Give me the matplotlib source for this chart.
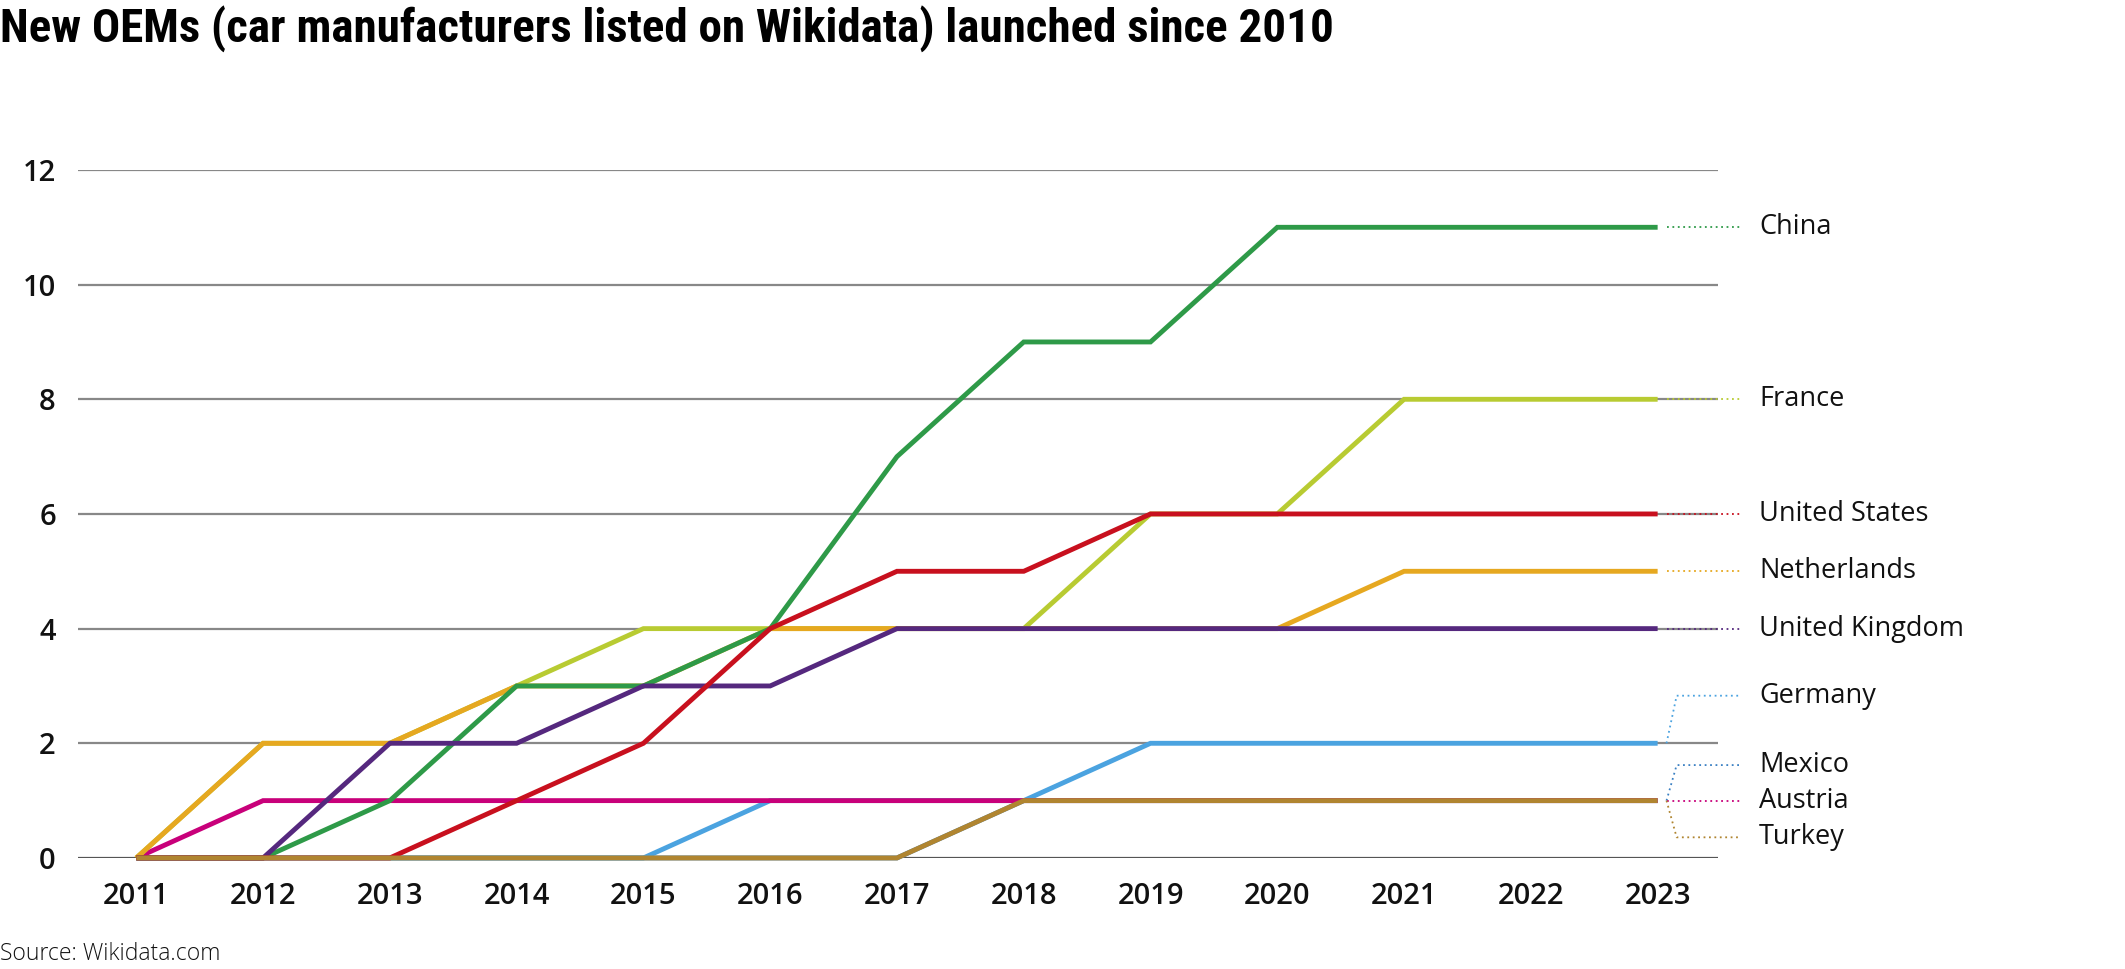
import matplotlib
matplotlib.use("Agg")
import matplotlib.pyplot as plt
from matplotlib import font_manager

years = [2011, 2012, 2013, 2014, 2015, 2016, 2017, 2018, 2019, 2020, 2021, 2022, 2023]

# cumulative number of new OEMs per country
mexico      = [0, 0, 0, 0, 0, 0, 0, 1, 1, 1, 1, 1, 1]
germany     = [0, 0, 0, 0, 0, 1, 1, 1, 2, 2, 2, 2, 2]
austria     = [0, 1, 1, 1, 1, 1, 1, 1, 1, 1, 1, 1, 1]
france      = [0, 2, 2, 3, 4, 4, 4, 4, 6, 6, 8, 8, 8]
netherlands = [0, 2, 2, 3, 3, 4, 4, 4, 4, 4, 5, 5, 5]
china       = [0, 0, 1, 3, 3, 4, 7, 9, 9, 11, 11, 11, 11]
uk          = [0, 0, 2, 2, 3, 3, 4, 4, 4, 4, 4, 4, 4]
usa         = [0, 0, 0, 1, 2, 4, 5, 5, 6, 6, 6, 6, 6]
turkey      = [0, 0, 0, 0, 0, 0, 0, 1, 1, 1, 1, 1, 1]

# drawing order: first = bottom
series = [
    ("Mexico", mexico, "#3a80c3"),
    ("Germany", germany, "#4ba3e0"),
    ("Austria", austria, "#c8007a"),
    ("France", france, "#b8cb32"),
    ("Netherlands", netherlands, "#e6a820"),
    ("China", china, "#2e9a48"),
    ("United Kingdom", uk, "#55287e"),
    ("United States", usa, "#c8101e"),
    ("Turkey", turkey, "#b08530"),
]

# label shifts so the crowded ones don't overlap
label_shift = {"Germany": 0.83, "Mexico": 0.62, "Turkey": -0.64}

# condensed font for the title if one is around
installed = {f.name for f in font_manager.fontManager.ttflist}
title_font, title_size = "DejaVu Sans", 23.5
for name, size in [("Liberation Sans Narrow", 34.5), ("Roboto Condensed", 33.8),
                   ("DejaVu Sans Condensed", 27), ("Open Sans Condensed", 33)]:
    if name in installed:
        title_font, title_size = name, size
        break

fig = plt.figure(figsize=(21.25, 9.69), dpi=100)
ax = fig.add_axes([0.0367, 0.1146, 0.772, 0.71])

for y in range(2, 13, 2):
    ax.axhline(y, color="#888888", lw=1.6, zorder=0)
ax.axhline(0, color="#555555", lw=1.6, zorder=0)

for i, (name, vals, col) in enumerate(series):
    ax.plot(years, vals, color=col, lw=3.5, solid_capstyle="butt",
            solid_joinstyle="miter", clip_on=False, zorder=2 + i)
    ly = vals[-1] + label_shift.get(name, 0)
    ax.plot([2023.07, 2023.15, 2023.65], [vals[-1], ly, ly], color=col,
            lw=1.3, ls=(0, (1, 2)), clip_on=False)
    ax.text(2023.8, ly, name, fontsize=19.5, family="Open Sans", color="#111111",
            fontweight="medium", va="center", ha="left", clip_on=False)

ax.set_xlim(2010.54, 2023.48)
ax.set_ylim(0, 12)
ax.set_yticks(range(0, 13, 2))
ax.set_xticks(years)
ax.tick_params(length=0, labelsize=21, colors="#111111", pad=17)
ax.tick_params(axis="y", pad=16)
for lab in ax.get_xticklabels() + ax.get_yticklabels():
    lab.set_family("Open Sans")
    lab.set_fontweight("semibold")
for s in ax.spines.values():
    s.set_visible(False)

fig.text(0.0, 0.995, "New OEMs (car manufacturers listed on Wikidata) launched since 2010",
         fontsize=title_size, fontweight="bold", family=title_font,
         va="top", ha="left")
fig.text(0.0, 0.003, "Source: Wikidata.com", fontsize=16.5, family="Open Sans",
         fontweight="light", va="bottom", ha="left", color="#111111")

fig.savefig("out.png", dpi=100)
